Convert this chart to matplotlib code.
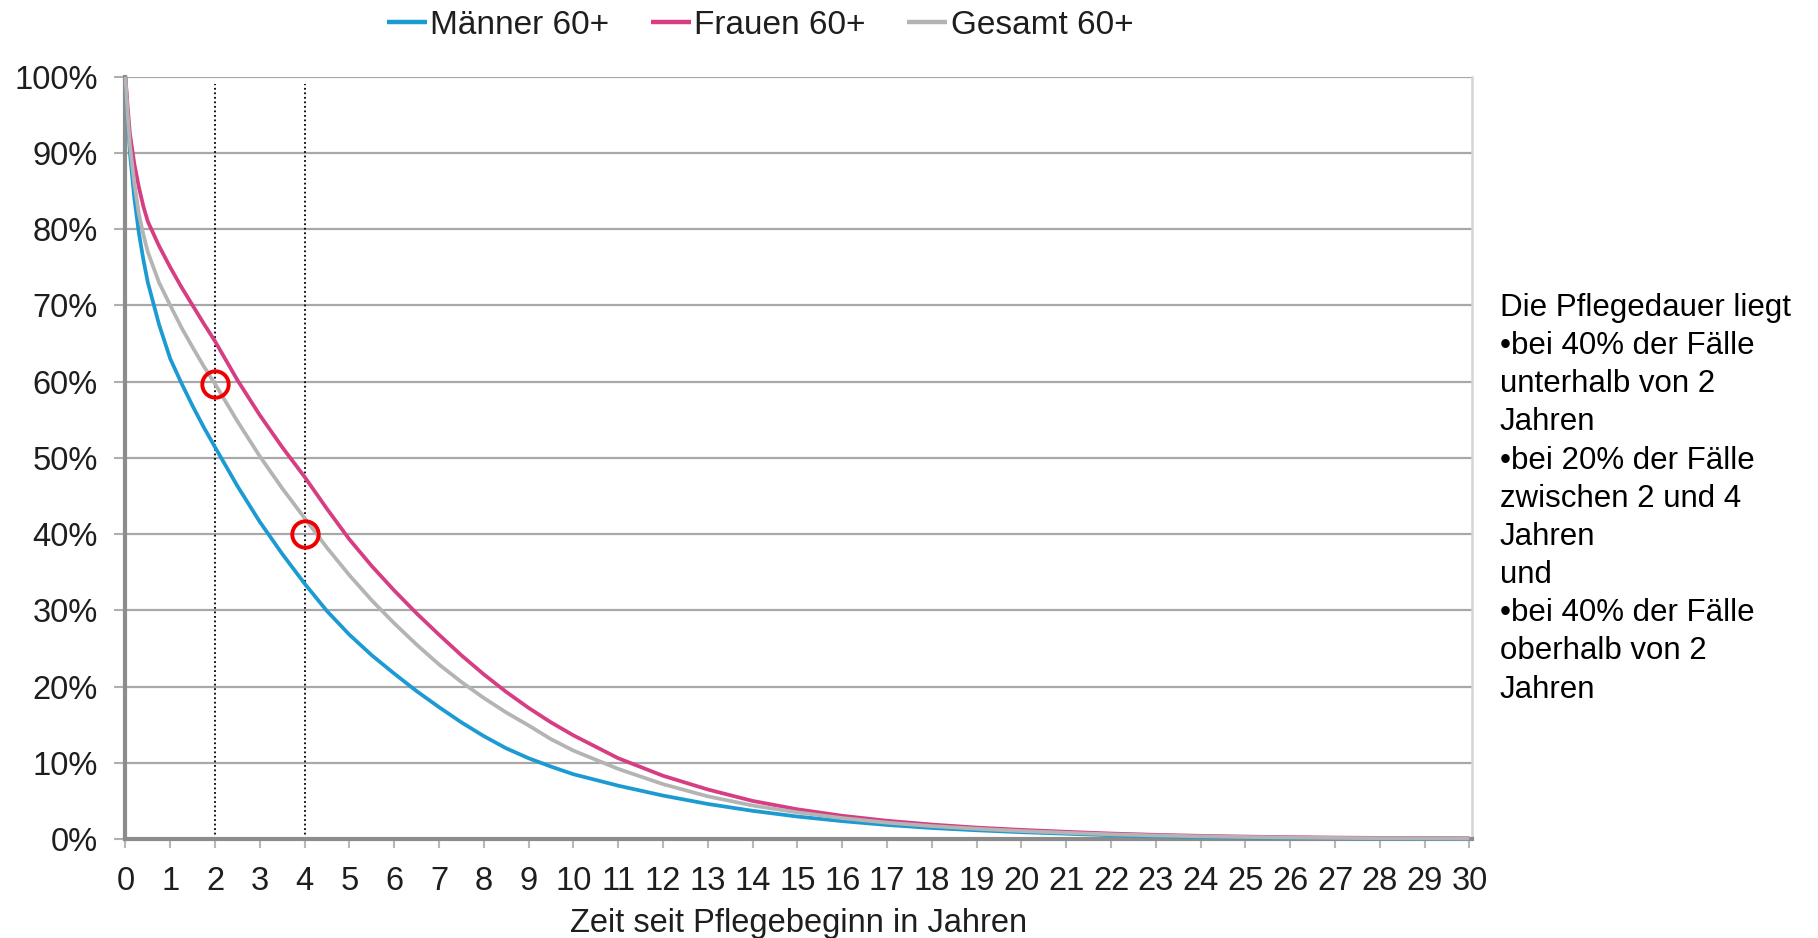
import matplotlib
matplotlib.use('Agg')
from matplotlib import pyplot as plt

plt.rcParams['font.family'] = ['Liberation Sans', 'DejaVu Sans']

# years since start of care (Zeit seit Pflegebeginn)
years = [0, 0.05, 0.1, 0.2, 0.3, 0.4, 0.5, 0.75, 1, 1.25, 1.5, 1.75, 2,
         2.5, 3, 3.5, 4, 4.5, 5, 5.5, 6, 6.5, 7, 7.5, 8, 8.5, 9, 9.5, 10,
         11, 12, 13, 14, 15, 16, 17, 18, 19, 20,
         21, 22, 23, 24, 25, 26, 27, 28, 29, 30]

maenner = [100, 94.5, 90, 84, 79.5, 76, 73, 67.5, 63, 59.8, 56.8, 54, 51.4,
           46.3, 41.6, 37.4, 33.5, 29.9, 26.8, 24.1, 21.7, 19.4, 17.3, 15.3,
           13.5, 11.9, 10.6, 9.5, 8.5,
           7.0, 5.7, 4.6, 3.7, 2.95, 2.35, 1.85, 1.45, 1.15, 0.9,
           0.7, 0.5, 0.36, 0.26, 0.19, 0.14, 0.1, 0.07, 0.05, 0.04]

frauen = [100, 96, 92.5, 88.5, 85.5, 83, 81, 77.8, 75, 72.4, 70, 67.6, 65.3,
          60.2, 55.6, 51.4, 47.5, 43.3, 39.3, 35.8, 32.6, 29.6, 26.8, 24.1,
          21.6, 19.3, 17.2, 15.3, 13.6,
          10.6, 8.3, 6.5, 5.0, 3.9, 3.05, 2.4, 1.9, 1.5, 1.2,
          0.95, 0.72, 0.55, 0.42, 0.32, 0.25, 0.19, 0.15, 0.12, 0.1]

gesamt = [100, 95, 91, 86, 82, 79.3, 77, 73, 70, 67.1, 64.5, 62, 59.7,
          54.8, 50.2, 46.0, 42.1, 38.2, 34.6, 31.3, 28.3, 25.5, 22.9, 20.6,
          18.5, 16.6, 14.9, 13.1, 11.6,
          9.2, 7.2, 5.6, 4.4, 3.5, 2.75, 2.15, 1.7, 1.35, 1.05,
          0.82, 0.62, 0.47, 0.36, 0.27, 0.2, 0.15, 0.11, 0.09, 0.07]

labels = ['Männer 60+', 'Frauen 60+', 'Gesamt 60+']
colors = ['#1c9ad2', '#d63d82', '#b4b4b4']

marked_years = [2, 4]
marked_values = [59.7, 40]

note = ('Die Pflegedauer liegt\n'
        '•bei 40% der Fälle\n'
        'unterhalb von 2\n'
        'Jahren\n'
        '•bei 20% der Fälle\n'
        'zwischen 2 und 4\n'
        'Jahren\n'
        'und\n'
        '•bei 40% der Fälle\n'
        'oberhalb von 2\n'
        'Jahren')

TEXT = '#1e1e1e'
FS = 23.5

fig = plt.figure(figsize=(18.18, 9.38), dpi=100)
ax = fig.add_axes([0.069, 0.1055, 0.7405, 0.8127])

for y in range(10, 101, 10):
    ax.axhline(y, color='#a8a8a8', lw=1.6, zorder=1)

for yr in marked_years:
    ax.plot([yr, yr], [0, 99], color='black', lw=1.3, ls=(0, (1, 1.5)), zorder=2)

lines = []
for vals, lab, col in zip([maenner, frauen, gesamt], labels, colors):
    ln, = ax.plot(years, vals, color=col, lw=2.7, label=lab, zorder=4,
                  clip_on=False, solid_joinstyle='round', solid_capstyle='butt')
    lines.append(ln)

ax.plot(marked_years, marked_values, 'o', ms=19, mfc='none', mec='#ee0000',
        mew=2.8, zorder=5)

ax.set_xlim(0, 30.05)
ax.set_ylim(0, 100)
ax.set_xticks(range(0, 31))
ax.set_yticks(range(0, 101, 10))
ax.set_yticklabels([f'{v}%' for v in range(0, 101, 10)])

ax.spines['top'].set_visible(False)
ax.spines['right'].set_color('#d4d4d4')
ax.spines['right'].set_linewidth(1.8)
ax.spines['left'].set_color('#8c8c8c')
ax.spines['left'].set_linewidth(3)
ax.spines['bottom'].set_color('#8c8c8c')
ax.spines['bottom'].set_linewidth(3)

ax.tick_params(axis='y', length=8, width=1.5, color='#b0b0b0', pad=12,
               labelsize=FS, labelcolor=TEXT)
ax.tick_params(axis='x', length=6.5, width=1.5, color='#b8b8b8', pad=13,
               labelsize=FS, labelcolor=TEXT)

ax.set_xlabel('Zeit seit Pflegebeginn in Jahren', fontsize=FS, color=TEXT,
              labelpad=8)

fig.legend(handles=lines, loc='center', bbox_to_anchor=(0.418, 0.973),
           ncol=3, frameon=False, fontsize=24, handlelength=1.2,
           handletextpad=0.1, columnspacing=1.25, labelcolor=TEXT)
for h in fig.legends[0].legend_handles:
    h.set_linewidth(3.2)

fig.text(1500 / 1818, 1 - 293 / 938, note, fontsize=22.5, color='black',
         va='top', ha='left', linespacing=1.355)

fig.savefig('out.png', dpi=100)
